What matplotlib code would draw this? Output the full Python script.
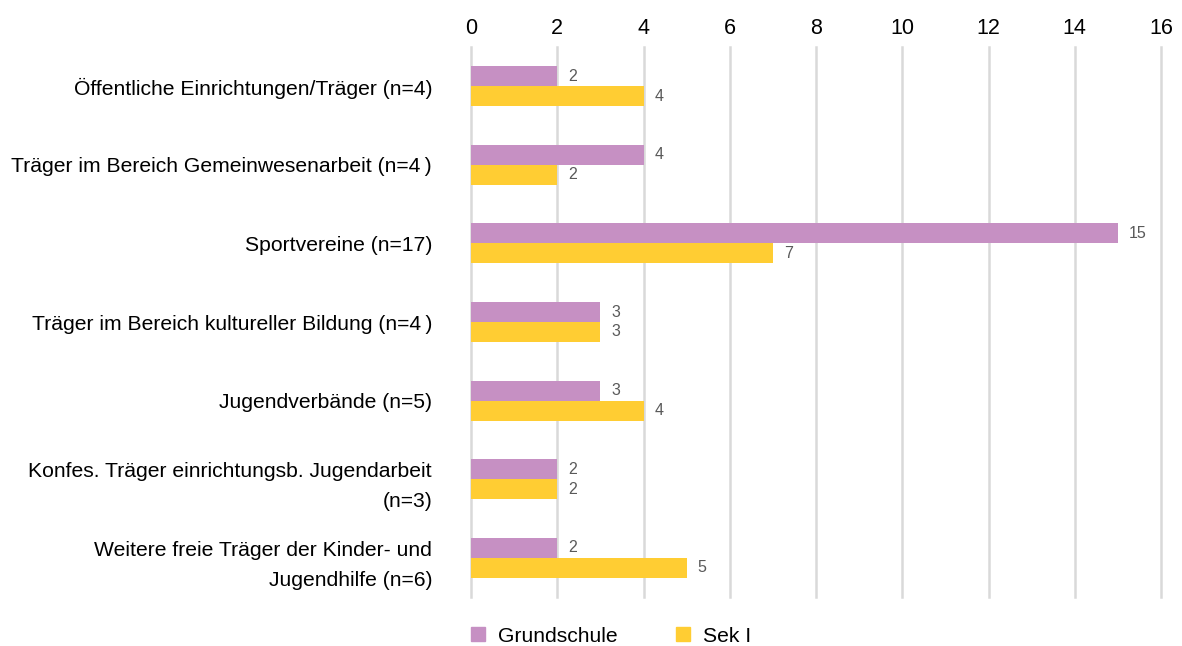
import matplotlib
matplotlib.use("Agg")
import matplotlib.pyplot as plt
import numpy as np
from matplotlib.patches import Patch

plt.rcParams['font.family'] = ['Liberation Sans', 'DejaVu Sans']

categories = [
    "Öffentliche Einrichtungen/Träger (n=4)",
    "Träger im Bereich Gemeinwesenarbeit (n=4\u2009)",
    "Sportvereine (n=17)",
    "Träger im Bereich kultureller Bildung (n=4\u2009)",
    "Jugendverbände (n=5)",
    "Konfes. Träger einrichtungsb. Jugendarbeit\n(n=3)",
    "Weitere freie Träger der Kinder- und\nJugendhilfe (n=6)",
]
grundschule = [2, 4, 15, 3, 3, 2, 2]
sek1 = [4, 2, 7, 3, 4, 2, 5]
series_names = ["Grundschule", "Sek I"]
colors = ["#C690C3", "#FFCD33"]
xticks = [0, 2, 4, 6, 8, 10, 12, 14, 16]

fig = plt.figure(figsize=(11.82, 6.46), dpi=100)
ax = fig.add_axes([471/1182, 1-597/646, 690/1182, 550/646])

y = np.arange(len(categories))
h = 0.254
b1 = ax.barh(y - h/2, grundschule, height=h, color=colors[0], zorder=3)
b2 = ax.barh(y + h/2, sek1, height=h, color=colors[1], zorder=3)

for bars, vals in ((b1, grundschule), (b2, sek1)):
    for bar, v in zip(bars, vals):
        ax.text(v + 0.26, bar.get_y() + bar.get_height()/2, str(v),
                va='center', ha='left', fontsize=11.5, color='#595959')

ax.set_ylim(len(categories) - 0.5, -0.5)
ax.set_xlim(0, 16)
ax.set_xticks(xticks)
ax.xaxis.tick_top()
ax.tick_params(axis='x', length=0, labelsize=15.5, pad=6, colors='black')
ax.tick_params(axis='y', length=0, pad=28)
ax.set_yticks(y)
ax.set_yticklabels(categories, fontsize=15.2, linespacing=1.75)
for lab in ax.get_yticklabels():
    lab.set_horizontalalignment('right')
    lab.set_multialignment('right')
ax.grid(axis='x', color='#D9D9D9', linewidth=1.8, zorder=0)
for line in ax.get_xgridlines():
    line.set_clip_on(False)
for s in ax.spines.values():
    s.set_visible(False)

handles = [Patch(color=c) for c in colors]
fig.legend(handles, series_names, loc='center', bbox_to_anchor=(611/1182, 1-636/646),
           ncol=2, frameon=False, fontsize=15.2, handlelength=0.65, handleheight=0.65,
           columnspacing=2.75, handletextpad=0.62)

fig.savefig("out.png", dpi=100)
